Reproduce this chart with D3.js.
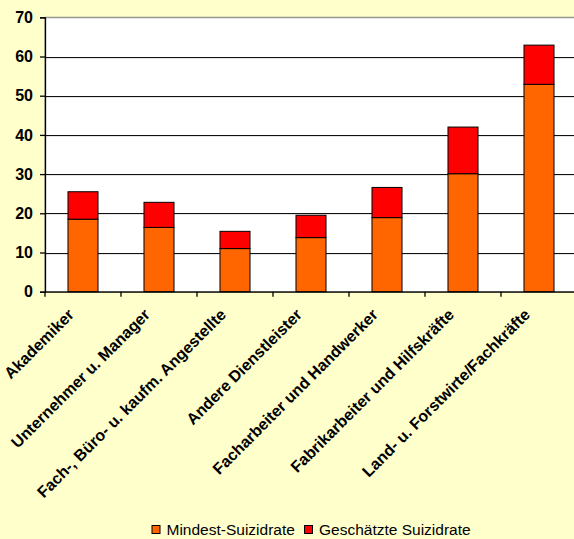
<!DOCTYPE html>
<html>
<head>
<meta charset="utf-8">
<script src="https://cdn.jsdelivr.net/npm/d3@7/dist/d3.min.js"></script>
<style>
  html, body { margin: 0; padding: 0; background: #FFFFCC; }
  svg { display: block; }
</style>
</head>
<body>
<script>
// Suizidraten nach Berufsgruppe
const categories = [
  "Akademiker",
  "Unternehmer u. Manager",
  "Fach-, Büro- u. kaufm. Angestellte",
  "Andere Dienstleister",
  "Facharbeiter und Handwerker",
  "Fabrikarbeiter und Hilfskräfte",
  "Land- u. Forstwirte/Fachkräfte"
];
const mindestRate = [18.5, 16.4, 11.0, 13.8, 18.9, 30.1, 52.9];
const geschaetzteRate = [25.5, 22.8, 15.4, 19.5, 26.6, 42.0, 62.9];
const seriesNames = ["Mindest-Suizidrate", "Geschätzte Suizidrate"];
const seriesColors = ["#FF6600", "#FF0000"];
const yTicks = [0, 10, 20, 30, 40, 50, 60, 70];

const W = 574, H = 539;
const plot = { left: 45, right: 577, top: 17.3, bottom: 291.7 };

const svg = d3.select("body").append("svg")
  .attr("width", W).attr("height", H);

svg.append("rect").attr("width", W).attr("height", H).attr("fill", "#FFFFCC");

const x = d3.scaleBand()
  .domain(categories)
  .range([plot.left, plot.right])
  .paddingInner(0.605)
  .paddingOuter(0.3025);

const xOuter = d3.scaleBand().domain(categories).range([plot.left, plot.right]);

const y = d3.scaleLinear().domain([0, 70]).range([plot.bottom, plot.top]);

// plot area
svg.append("rect")
  .attr("x", plot.left).attr("y", plot.top)
  .attr("width", plot.right - plot.left).attr("height", plot.bottom - plot.top)
  .attr("fill", "#FFFFFF")
  .attr("stroke", "#808080").attr("stroke-width", 1);

// gridlines
const grid = svg.append("g");
grid.selectAll("line.shadow")
  .data(yTicks.filter(d => d > 0))
  .join("line")
  .attr("class", "shadow")
  .attr("x1", plot.left).attr("x2", plot.right)
  .attr("y1", d => Math.round(y(d)) + 1.5).attr("y2", d => Math.round(y(d)) + 1.5)
  .attr("stroke", "#e4e4e4").attr("stroke-width", 1);
grid.selectAll("line.major")
  .data(yTicks.filter(d => d > 0 && d < 70))
  .join("line")
  .attr("class", "major")
  .attr("x1", plot.left).attr("x2", plot.right)
  .attr("y1", d => Math.round(y(d)) + 0.5).attr("y2", d => Math.round(y(d)) + 0.5)
  .attr("stroke", "#111").attr("stroke-width", 1.2);

// stacked bars
const stackData = categories.map((c, i) => ({
  cat: c,
  mindest: mindestRate[i],
  zusatz: geschaetzteRate[i] - mindestRate[i]
}));
const stack = d3.stack().keys(["mindest", "zusatz"]);
const layers = stack(stackData);

svg.append("g").selectAll("g")
  .data(layers)
  .join("g")
  .attr("fill", (d, i) => seriesColors[i])
  .selectAll("rect")
  .data(d => d)
  .join("rect")
  .attr("x", d => x(d.data.cat))
  .attr("width", x.bandwidth())
  .attr("y", d => y(d[1]))
  .attr("height", d => y(d[0]) - y(d[1]))
  .attr("stroke", "#000").attr("stroke-width", 1);

// y axis
const yAxis = svg.append("g")
  .attr("transform", `translate(${plot.left},0)`)
  .call(d3.axisLeft(y).tickValues(yTicks).tickSize(5).tickPadding(7).tickFormat(d3.format("d")));
yAxis.select(".domain").attr("stroke", "#000").attr("stroke-width", 1.3);
yAxis.selectAll(".tick line").attr("stroke", "#000").attr("stroke-width", 1.3);
yAxis.selectAll(".tick text")
  .attr("fill", "#000")
  .style("font-family", "Liberation Sans, Arial, sans-serif")
  .style("font-weight", "bold")
  .style("font-size", "16px");

// x axis
const xAxis = svg.append("g")
  .attr("transform", `translate(0,${plot.bottom})`)
  .call(d3.axisBottom(xOuter).tickSize(0).tickFormat(""));
xAxis.select(".domain").attr("stroke", "#000").attr("stroke-width", 1.3);
xAxis.selectAll(".tick").remove();

// category boundary ticks
svg.append("g").selectAll("line")
  .data(categories)
  .join("line")
  .attr("x1", d => xOuter(d)).attr("x2", d => xOuter(d))
  .attr("y1", plot.bottom).attr("y2", plot.bottom + 5)
  .attr("stroke", "#000").attr("stroke-width", 1.3);

// rotated category labels
svg.append("g").selectAll("text")
  .data(categories)
  .join("text")
  .attr("transform", d => `translate(${xOuter(d) + xOuter.bandwidth() / 2 - 8},${plot.bottom + 24}) rotate(-45)`)
  .attr("text-anchor", "end")
  .attr("fill", "#000")
  .style("font-family", "Liberation Sans, Arial, sans-serif")
  .style("font-weight", "bold")
  .style("font-size", "16px")
  .text(d => d);

// legend
const legend = svg.append("g");
const legendItems = [
  { name: seriesNames[0], color: seriesColors[0], x: 151.5 },
  { name: seriesNames[1], color: seriesColors[1], x: 304 }
];
const lg = legend.selectAll("g").data(legendItems).join("g")
  .attr("transform", d => `translate(${d.x},525)`);
lg.append("rect")
  .attr("x", 0.5).attr("y", 0.5).attr("width", 8).attr("height", 8)
  .attr("fill", d => d.color).attr("stroke", "#000").attr("stroke-width", 1);
lg.append("text")
  .attr("x", 15).attr("y", 10)
  .attr("fill", "#000")
  .style("font-family", "Liberation Sans, Arial, sans-serif")
  .style("font-size", "15.5px")
  .text(d => d.name);
</script>
</body>
</html>
